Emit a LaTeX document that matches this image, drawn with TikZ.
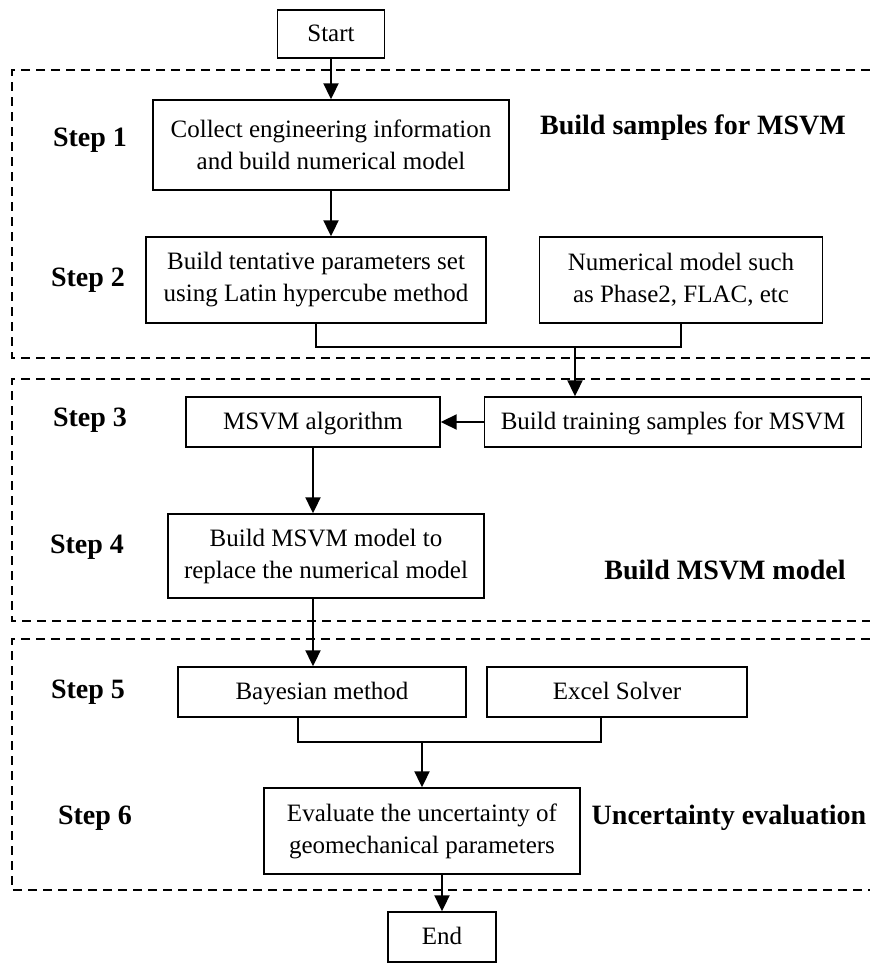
\documentclass[tikz,border=0pt]{standalone}
\usepackage{fontspec}
\setmainfont{Liberation Serif}
\usetikzlibrary{arrows.meta}

\begin{document}
\begin{tikzpicture}[x=1pt, y=-1pt,
    caja/.style={draw, line width=1.4pt, align=center, inner sep=0pt,
        font=\fontsize{25}{32}\selectfont},
    simple/.style={text height=18pt, text depth=3pt},
    paso/.style={font=\fontsize{28}{32}\selectfont\bfseries},
    zona/.style={line width=1.4pt, dash pattern=on 9pt off 6pt},
    flecha/.style={line width=2pt, -{Triangle[width=15pt,length=16pt]}},
    linea/.style={line width=1.4pt}]
    \useasboundingbox (0,0) rectangle (870,964);

    % Zonas punteadas
    \draw[zona] (885,70) -| (12,358) -- (885,358);
    \draw[zona] (885,379) -| (12,621) -- (885,621);
    \draw[zona] (885,639) -| (12,890) -- (885,890);

    % Cajas del proceso
    \node[caja, simple, minimum width=107pt, minimum height=48pt] (start) at (331,34) {Start};
    \node[caja, minimum width=356pt, minimum height=90pt] (collect) at (331,145)
        {Collect engineering information\\and build numerical model};
    \node[caja, minimum width=340pt, minimum height=86pt] (tentative) at (316,280)
        {Build tentative parameters set\\using Latin hypercube method};
    \node[caja, minimum width=283pt, minimum height=86pt] (numerical) at (681,280)
        {Numerical model such\\as Phase2, FLAC, etc};
    \node[caja, simple, minimum width=377pt, minimum height=50pt] (training) at (673,422)
        {Build training samples for MSVM};
    \node[caja, simple, minimum width=254pt, minimum height=50pt] (algorithm) at (313,422)
        {MSVM algorithm};
    \node[caja, minimum width=316pt, minimum height=84pt] (msvmmodel) at (326,556)
        {Build MSVM model to\\replace the numerical model};
    \node[caja, simple, minimum width=288pt, minimum height=50pt] (bayes) at (322,692)
        {Bayesian method};
    \node[caja, simple, minimum width=260pt, minimum height=50pt] (solver) at (617,692)
        {Excel Solver};
    \node[caja, minimum width=316pt, minimum height=86pt] (evaluate) at (422,831)
        {Evaluate the uncertainty of\\geomechanical parameters};
    \node[caja, simple, minimum width=108pt, minimum height=50pt] (end) at (442,937) {End};

    % Pasos y etapas
    \node[paso] (step1) at (90,140) {Step 1};
    \node[paso] (step2) at (88,280) {Step 2};
    \node[paso] (step3) at (90,420) {Step 3};
    \node[paso] (step4) at (87,547) {Step 4};
    \node[paso] (step5) at (88,692) {Step 5};
    \node[paso] (step6) at (95,818) {Step 6};
    \node[paso] (etapa1) at (693,128) {Build samples for MSVM};
    \node[paso] (etapa2) at (725,570) {Build MSVM model};
    \node[paso] (etapa3) at (729,818) {Uncertainty evaluation};

    % Uniones
    \coordinate (join1) at (575,347);
    \coordinate (join2) at (422,742);
    \draw[linea] (tentative.south) |- (join1) -| (numerical.south);
    \draw[linea] ([xshift=-24pt]bayes.south) |- (join2) -| ([xshift=-16pt]solver.south);

    % Flechas
    \draw[flecha] (start.south) -- (collect.north);
    \draw[flecha] (collect.south) -- (collect.south |- tentative.north);
    \draw[flecha] (join1) -- (join1 |- training.north);
    \draw[flecha] (training.west) -- (algorithm.east);
    \draw[flecha] (algorithm.south) -- (algorithm.south |- msvmmodel.north);
    \draw[flecha] (algorithm.south |- msvmmodel.south) -- (algorithm.south |- bayes.north);
    \draw[flecha] (join2) -- (evaluate.north);
    \draw[flecha] (end.north |- evaluate.south) -- (end.north);
\end{tikzpicture}
\end{document}
